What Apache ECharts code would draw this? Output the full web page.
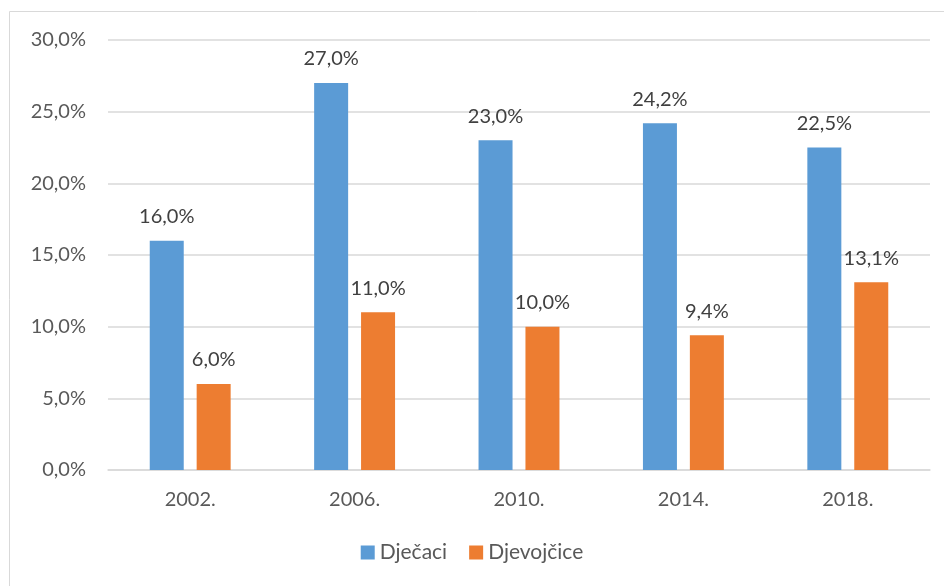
<!DOCTYPE html>
<html>
<head>
<meta charset="utf-8">
<script src="https://cdn.jsdelivr.net/npm/echarts@6/dist/echarts.min.js"></script>
<style>
    html, body { margin: 0; padding: 0; background: #fff; }
    #chart { width: 944px; height: 586px; }
</style>
</head>
<body>
<div id="chart"></div>
<script>
    // podaci
    var years = ['2002.', '2006.', '2010.', '2014.', '2018.'];
    var djecaci = [16.0, 27.0, 23.0, 24.2, 22.5];
    var djevojcice = [6.0, 11.0, 10.0, 9.4, 13.1];

    function pct(v) {
        return v.toFixed(1).replace('.', ',') + '%';
    }

    var font = 'Lato, "Open Sans", sans-serif';
    var chart = echarts.init(document.getElementById('chart'));
    chart.setOption({
        textStyle: { fontFamily: font },
        animation: false,
        graphic: [{
            type: 'rect',
            shape: { x: 9.5, y: 11.5, width: 960, height: 600 },
            style: { fill: 'none', stroke: '#d9d9d9', lineWidth: 1 }
        }],
        legend: {
            data: ['Dječaci', 'Djevojčice'],
            bottom: 18,
            left: 'center',
            itemWidth: 14,
            itemHeight: 14,
            itemGap: 22,
            icon: 'rect',
            textStyle: { fontSize: 21, color: '#595959', fontFamily: font }
        },
        grid: { left: 108, right: 14, top: 40, bottom: 116 },
        xAxis: {
            type: 'category',
            data: years,
            axisLine: { lineStyle: { color: '#d9d9d9', width: 1.5 } },
            axisTick: { show: false },
            axisLabel: { fontSize: 20, color: '#595959', margin: 20 }
        },
        yAxis: {
            type: 'value',
            min: 0,
            max: 30,
            interval: 5,
            axisLine: { show: false },
            axisTick: { show: false },
            splitLine: { lineStyle: { color: '#d9d9d9', width: 1.5 } },
            axisLabel: { fontSize: 20, color: '#595959', margin: 22, formatter: pct }
        },
        series: [{
            name: 'Dječaci',
            type: 'bar',
            data: djecaci,
            barWidth: 34,
            barGap: '38%',
            itemStyle: { color: '#5b9bd5' },
            label: {
                show: true, position: 'top', distance: 14,
                fontSize: 20, color: '#404040',
                formatter: function (p) { return pct(p.value); }
            }
        }, {
            name: 'Djevojčice',
            type: 'bar',
            data: djevojcice,
            barWidth: 34,
            itemStyle: { color: '#ed7d31' },
            label: {
                show: true, position: 'top', distance: 14,
                fontSize: 20, color: '#404040',
                formatter: function (p) { return pct(p.value); }
            }
        }]
    });
</script>
</body>
</html>
